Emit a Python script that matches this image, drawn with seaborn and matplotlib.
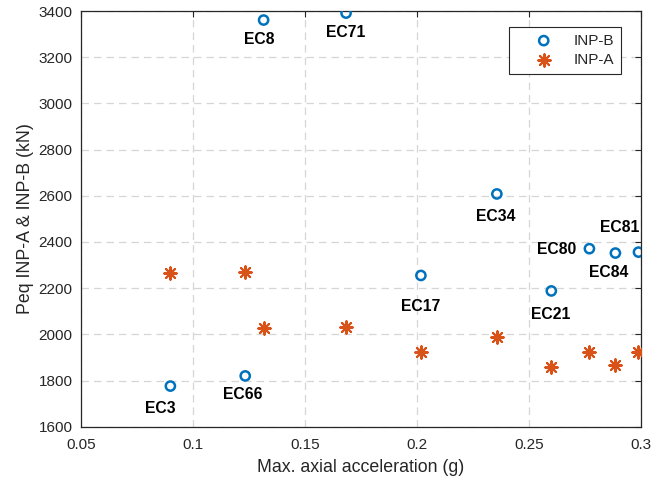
import matplotlib
matplotlib.use('Agg')
import numpy as np
import pandas as pd
import matplotlib.pyplot as plt
import seaborn as sns
from matplotlib.ticker import FuncFormatter

# data
events = ["EC3", "EC66", "EC8", "EC71", "EC17", "EC34", "EC21", "EC80", "EC84", "EC81"]
max_acc = [0.0899, 0.1233, 0.1315, 0.1683, 0.2017, 0.2356, 0.2599, 0.2769, 0.2885, 0.2988]
peq_inp_b = [1776, 1820, 3361, 3391, 2255, 2608, 2188, 2371, 2352, 2356]
peq_inp_a = [2265, 2272, 2027, 2031, 1923, 1988, 1860, 1923, 1868, 1923]
# label offsets in pixels (dx, dy) relative to the INP-B marker
label_offsets = [(-10, -22), (-2, -19), (-4, -19), (0, -19), (0, -31),
                 (-1, -23), (-1, -24), (-33, -1), (-7, -19), (-19, 25)]

blue = "#0072BD"
orange = "#D95319"

sns.set_style("white")
plt.rcParams['font.family'] = ['Liberation Sans', 'DejaVu Sans']

df = pd.DataFrame({"acc": max_acc, "inp_b": peq_inp_b, "inp_a": peq_inp_a, "event": events})

fig = plt.figure(figsize=(6.61, 4.80), dpi=100)
ax = fig.add_axes([0.1225, 0.111, 0.8475, 0.866])

sns.scatterplot(data=df, x="acc", y="inp_b", marker="o", s=44, facecolors="none",
                edgecolor=blue, linewidth=1.8, label="INP-B", ax=ax, zorder=3)
sns.scatterplot(data=df, x="acc", y="inp_a", marker=(8, 2, 0), s=80, color=orange,
                edgecolor=orange, linewidth=1.5, label="INP-A", ax=ax, zorder=3)

for ev, xv, yv, (dx, dy) in zip(events, max_acc, peq_inp_b, label_offsets):
    ax.annotate(ev, (xv, yv), xytext=(dx, dy), textcoords="offset pixels",
                ha="center", va="center", fontsize=11.3, fontweight="bold", color="black")

ax.set_xlim(0.05, 0.3)
ax.set_ylim(1600, 3400)
ax.set_xticks(np.arange(0.05, 0.301, 0.05))
ax.set_yticks(np.arange(1600, 3401, 200))
ax.xaxis.set_major_formatter(FuncFormatter(lambda v, p: f"{v:g}"))
ax.grid(True, color="#d6d6d6", linestyle=(0, (6, 4)), linewidth=0.9)
ax.set_axisbelow(True)
ax.tick_params(direction="in", length=4, width=0.8, top=True, right=True,
               labelsize=11, colors="#262626")
ax.tick_params(axis="x", pad=8)
ax.tick_params(axis="y", pad=6)
for sp in ax.spines.values():
    sp.set_color("#262626")
    sp.set_linewidth(0.9)

ax.set_xlabel("Max. axial acceleration (g)", fontsize=12.8, color="#262626", labelpad=5)
ax.set_ylabel("Peq INP-A & INP-B (kN)", fontsize=12.8, color="#262626", labelpad=3.5)

leg = ax.legend(loc="upper right", bbox_to_anchor=(0.9638, 0.9622), borderaxespad=0,
                fancybox=False, framealpha=1, edgecolor="#262626", fontsize=11,
                handlelength=3.6, handletextpad=0.15, borderpad=0.45, labelspacing=0.35)
leg.get_frame().set_linewidth(0.8)

fig.savefig("out.png", dpi=100)
